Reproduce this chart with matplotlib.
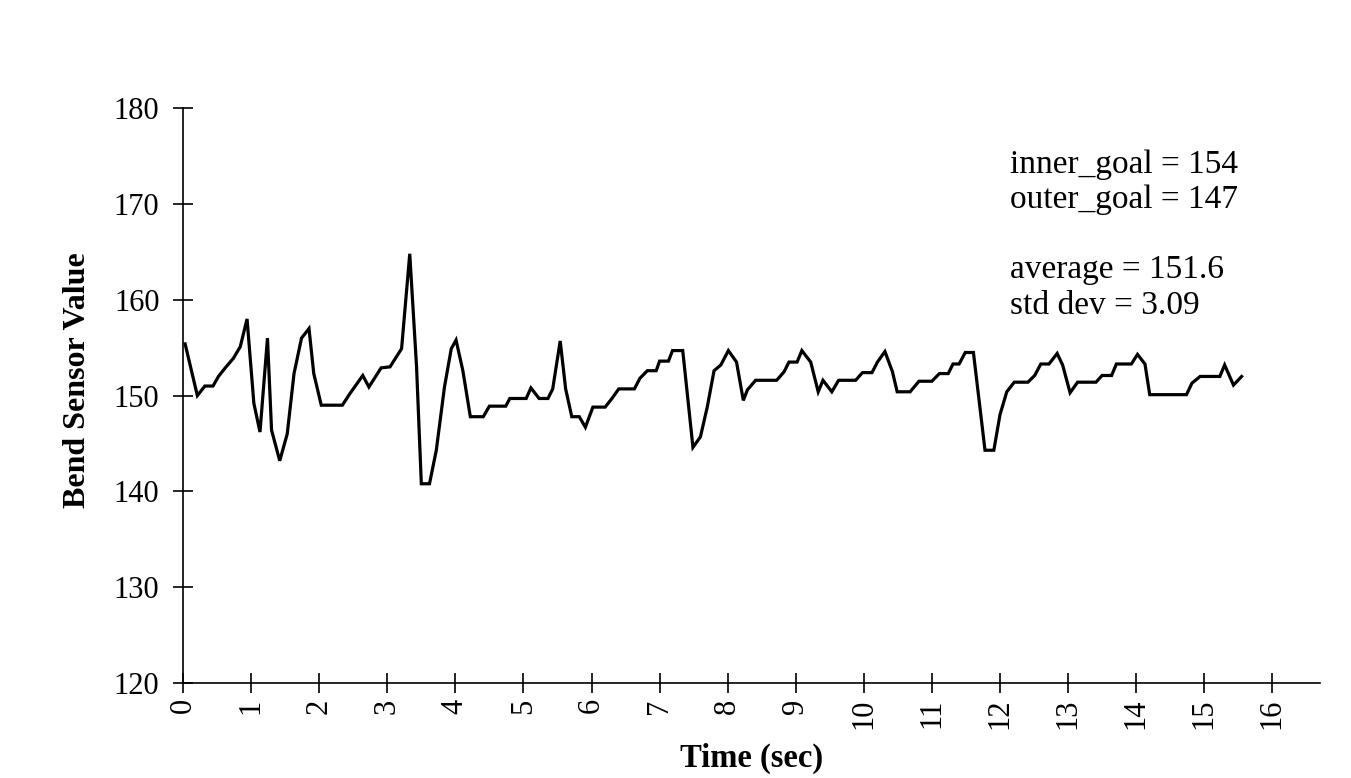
import matplotlib
matplotlib.use("Agg")
import matplotlib.pyplot as plt

# vertices of the trace (time in sec, sensor value)
time_sec = [0.03, 0.21, 0.32, 0.44, 0.52, 0.62, 0.74, 0.84, 0.94, 1.04, 1.13, 1.24, 1.30,
            1.42, 1.53, 1.63, 1.74, 1.85, 1.92, 2.03, 2.34, 2.45, 2.64, 2.73, 2.91, 3.04,
            3.21, 3.33, 3.43, 3.50, 3.62, 3.72, 3.84, 3.94, 4.01, 4.11, 4.22, 4.41, 4.50,
            4.74, 4.80, 5.04, 5.11, 5.23, 5.36, 5.43, 5.54, 5.62, 5.71, 5.82, 5.91, 6.02,
            6.20, 6.30, 6.40, 6.63, 6.71, 6.82, 6.95, 7.00, 7.13, 7.19, 7.34, 7.49, 7.60,
            7.70, 7.80, 7.90, 8.01, 8.13, 8.23, 8.29, 8.41, 8.72, 8.83, 8.90, 9.02, 9.09,
            9.22, 9.33, 9.40, 9.53, 9.63, 9.88, 9.98, 10.12, 10.20, 10.31, 10.42, 10.49,
            10.68, 10.81, 11.00, 11.11, 11.24, 11.31, 11.40, 11.49, 11.61, 11.78, 11.91,
            12.00, 12.10, 12.21, 12.41, 12.51, 12.60, 12.72, 12.84, 12.92, 13.03, 13.14,
            13.41, 13.50, 13.64, 13.71, 13.93, 14.02, 14.13, 14.20, 14.74, 14.82, 14.94,
            15.23, 15.30, 15.43, 15.55]
bend_value = [155.4, 150.0, 151.0, 151.0, 152.0, 152.9, 153.9, 155.1, 158.0, 149.2, 146.2,
              156.0, 146.4, 143.2, 146.0, 152.3, 156.0, 157.0, 152.3, 149.0, 149.0, 150.2,
              152.1, 150.9, 152.9, 153.0, 154.9, 164.8, 153.0, 140.8, 140.8, 144.3, 150.9,
              154.9, 155.8, 152.6, 147.8, 147.8, 148.9, 148.9, 149.7, 149.7, 150.8, 149.7,
              149.7, 150.7, 155.7, 150.7, 147.8, 147.8, 146.7, 148.8, 148.8, 149.7, 150.7,
              150.7, 151.8, 152.6, 152.6, 153.6, 153.6, 154.7, 154.7, 144.6, 145.7, 148.8,
              152.6, 153.2, 154.7, 153.5, 149.5, 150.6, 151.6, 151.6, 152.5, 153.5, 153.5,
              154.7, 153.5, 150.4, 151.6, 150.4, 151.6, 151.6, 152.4, 152.4, 153.5, 154.6,
              152.5, 150.4, 150.4, 151.5, 151.5, 152.3, 152.3, 153.3, 153.3, 154.5, 154.5,
              144.3, 144.3, 148.0, 150.4, 151.4, 151.4, 152.1, 153.3, 153.3, 154.4, 153.2,
              150.3, 151.4, 151.4, 152.1, 152.1, 153.3, 153.3, 154.3, 153.3, 150.1, 150.1,
              151.3, 152.0, 152.0, 153.2, 151.1, 152.0]

stats_text = ["inner_goal = 154", "outer_goal = 147", "", "average = 151.6", "std dev = 3.09"]
x_ticks = list(range(0, 17))
y_ticks = [120, 130, 140, 150, 160, 170, 180]

plt.rcParams['font.family'] = ['Liberation Serif', 'DejaVu Serif']

fig = plt.figure(figsize=(13.51, 7.78), dpi=100)
ax = fig.add_axes([0.1355, 0.122, 0.8415, 0.739])

ax.plot(time_sec, bend_value, color='black', linewidth=2.3, solid_joinstyle='miter')

ax.set_xlim(0, 16.7)
ax.set_ylim(120, 180)
ax.set_xticks(x_ticks)
ax.set_yticks(y_ticks)
ax.tick_params(axis='both', direction='inout', length=14, width=1.2, labelsize=22)
ax.tick_params(axis='x', labelrotation=90, pad=4)
ax.tick_params(axis='y', pad=10)
for s in ['top', 'right']:
    ax.spines[s].set_visible(False)
for s in ['left', 'bottom']:
    ax.spines[s].set_linewidth(1.2)

ax.set_xlabel('Time (sec)', fontsize=23.5, fontweight='bold', labelpad=10)
ax.set_ylabel('Bend Sensor Value', fontsize=23, fontweight='bold')
ax.yaxis.set_label_coords(-0.08, 0.527)

ax.text(12.15, 175.7, "\n".join(stats_text), fontsize=24, va='top', ha='left',
        linespacing=1.2)

fig.savefig('out.png', dpi=100, facecolor='white')
